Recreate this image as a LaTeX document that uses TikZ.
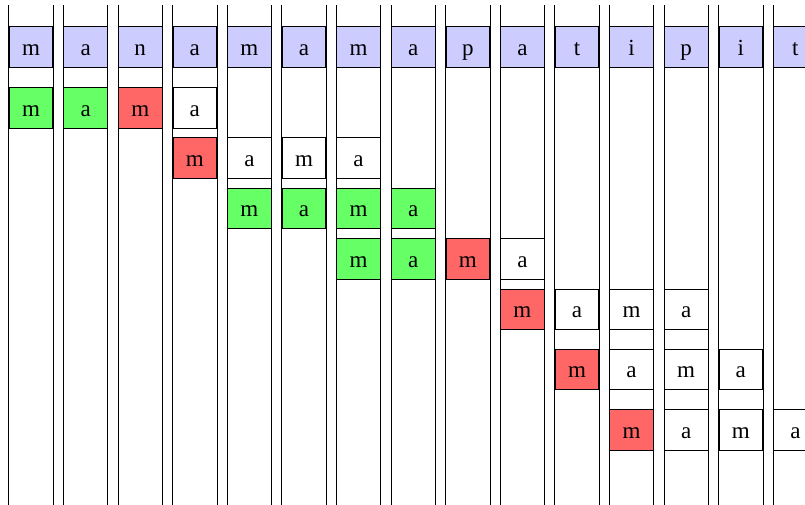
\documentclass[tikz,border=0pt]{standalone}
\usepackage{fontspec}
\setmainfont{Liberation Serif}
\tikzset{
  tchar/.style={draw,fill=blue!20,minimum width=8mm,minimum height=7.4mm,inner sep=0pt,
    text height=9pt,text depth=0.6pt,font=\large},
  pchar/.style={draw,minimum width=8mm,minimum height=7.4mm,inner sep=0pt,
    text height=9pt,text depth=0.6pt,font=\large},
  colline/.style={thin,black},
}
\begin{document}
\begin{tikzpicture}
\useasboundingbox (0,0) rectangle (14.744,-9.231);
\clip (0,0) rectangle (14.744,-9.231);
% text row and the column rails
\foreach \c [count=\i from 0] in {m,a,n,a,m,a,m,a,p,a,t,i,p,i,t}{
  \node[tchar] (t\i) at (0.568+\i,-0.861) {\c};
  \draw[colline] ([yshift=3.85mm]t\i.north west) -- ([yshift=-90mm]t\i.north west);
  \draw[colline] ([yshift=3.85mm]t\i.north east) -- ([yshift=-90mm]t\i.north east);}
% pattern shifts: row / first column / y / index of the mismatch
\foreach \r/\s/\y/\k in {1/0/1.978/2,2/3/2.894/0,3/4/3.815/4,4/6/4.744/2,
                         5/9/5.665/0,6/10/6.767/0,7/11/7.875/0}{
  \foreach \c [count=\j from 0] in {m,a,m,a}{
    \pgfmathtruncatemacro\col{\s+\j}
    \ifnum\j<\k \def\fc{green!60}\else\ifnum\j=\k \def\fc{red!60}\else\def\fc{white}\fi\fi
    \node[pchar,fill=\fc] (p\r-\j) at (0.568+\col,-\y) {\c};}}
\end{tikzpicture}
\end{document}
